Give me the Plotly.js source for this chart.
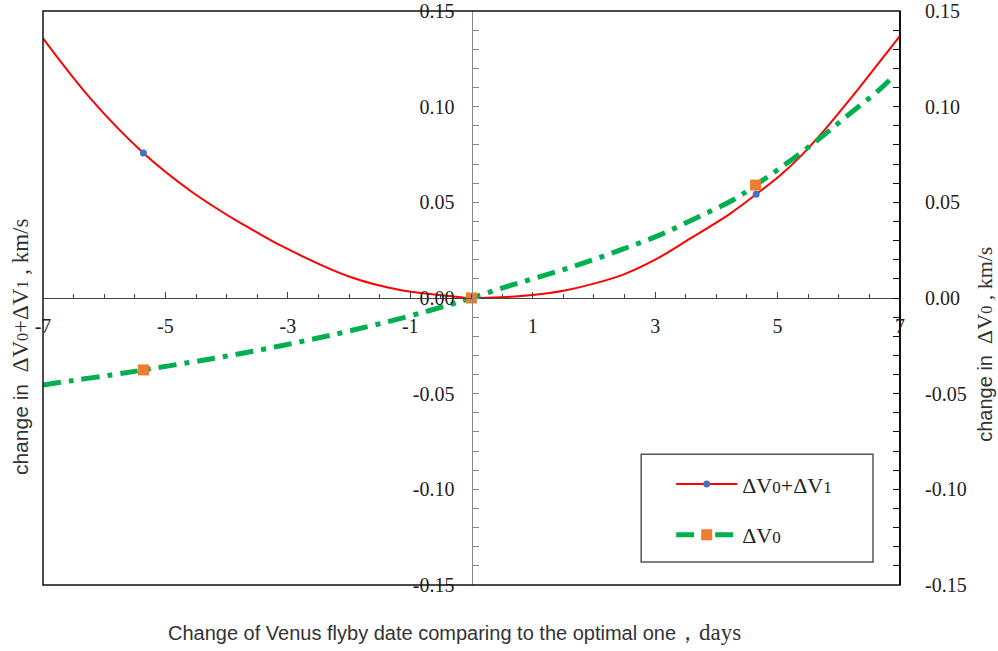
<!DOCTYPE html>
<html><head><meta charset="utf-8">
<script src="https://cdn.plot.ly/plotly-3.0.1.min.js"></script>
<style>html,body{margin:0;padding:0;background:#fff}</style>
</head><body><div id="chart" style="width:998px;height:651px"></div>
<script>
// ---- data ----
const totalDays = [-7, -6.23, -5.36, -4.6, -3.86, -3.62, -3.08, -1.99, -1.17, -0.35, 0, 0.5, 1.0, 1.5, 2.0, 2.5, 3.0, 3.57, 4.22, 4.65, 5.04, 5.37, 5.69, 6.02, 6.35, 6.67, 7.0];
const totalDv   = [0.1357, 0.1045, 0.0758, 0.0562, 0.0408, 0.0364, 0.0268, 0.0111, 0.0042, 0.0010, 0.0000, 0.0004, 0.0016, 0.0038, 0.0075, 0.0125, 0.0200, 0.0310, 0.0440, 0.0542, 0.0640, 0.0739, 0.0850, 0.0975, 0.1105, 0.1235, 0.1370];
const totalMarked = [2, 10, 19];

const dv0Days = [-7.0, -6.53, -5.88, -5.36, -4.57, -3.92, -3.26, -2.61, -1.99, -1.33, -0.71, -0.3, 0, 0.575, 1.23, 1.85, 2.46, 3.08, 3.68, 4.27, 4.64, 5.09, 5.64, 6.13, 6.65, 6.88];
const dv0Vals = [-0.0455, -0.0432, -0.0402, -0.0376, -0.0335, -0.0299, -0.0259, -0.0216, -0.0172, -0.0121, -0.0068, -0.0030, 0.0, 0.0060, 0.0122, 0.0185, 0.0254, 0.0330, 0.0420, 0.0512, 0.0590, 0.0690, 0.0822, 0.0950, 0.1085, 0.1155];
const dv0Marked = [3, 12, 20];

const xTickVals = [-7, -5, -3, -1, 1, 3, 5, 7];
const xTickText = ['-7', '-5', '-3', '-1', '1', '3', '5', '7'];
const yTickVals = [-0.15, -0.10, -0.05, 0, 0.05, 0.10, 0.15];
const yTickText = ['-0.15', '-0.10', '-0.05', '0.00', '0.05', '0.10', '0.15'];

const seriesNames = ['ΔV<span style="font-size:17px">0</span>+ΔV<span style="font-size:17px">1</span>', 'ΔV<span style="font-size:17px">0</span>'];
const xTitleText = 'Change of Venus flyby date comparing to the optimal one<span style="font-family:Liberation Serif;font-size:23px">，days</span>';
const leftTitleText = 'change in  <span style="font-family:Liberation Serif;font-size:23px">ΔV<span style="font-size:16px">0</span>+ΔV<span style="font-size:16px">1</span> , km/s</span>';
const rightTitleText = 'change in  <span style="font-family:Liberation Serif;font-size:22px">ΔV<span style="font-size:16px">0</span> , km/s</span>';

const serif = 'Liberation Serif';
const sans = 'Liberation Sans';

const traces = [
  {
    x: totalDays, y: totalDv, name: seriesNames[0], legendgroup: 'a',
    mode: 'lines+markers', yaxis: 'y',
    line: {color: '#FF0000', width: 2, shape: 'spline', smoothing: 1},
    marker: {symbol: 'circle', size: 7, color: '#4472C4'},
    selectedpoints: totalMarked,
    selected: {marker: {opacity: 1}}, unselected: {marker: {opacity: 0}},
    hoverinfo: 'skip'
  },
  {
    x: dv0Days, y: dv0Vals, name: seriesNames[1], legendgroup: 'b',
    mode: 'lines+markers', yaxis: 'y2',
    line: {color: '#00B050', width: 5, shape: 'spline', smoothing: 1, dash: '18px,8px,5px,8px'},
    marker: {symbol: 'square', size: 11, color: '#ED7D31'},
    selectedpoints: dv0Marked,
    selected: {marker: {opacity: 1}}, unselected: {marker: {opacity: 0}},
    hoverinfo: 'skip'
  }
];

const tickFont = {family: serif, size: 20, color: '#222'};

const layout = {
  width: 998, height: 651,
  margin: {l: 43, r: 98, t: 11, b: 66},
  paper_bgcolor: '#fff', plot_bgcolor: '#fff',
  showlegend: true,
  legend: {
    x: 0.733, y: 0.212, xanchor: 'left', yanchor: 'top',
    bgcolor: 'rgba(0,0,0,0)', borderwidth: 0,
    font: {family: serif, size: 22, color: '#222'},
    tracegroupgap: 19, itemwidth: 61
  },
  xaxis: {
    range: [-7, 7], anchor: 'free', position: 0.5,
    showline: true, linecolor: '#444', linewidth: 1,
    tickmode: 'array', tickvals: xTickVals, ticktext: xTickText,
    ticks: 'inside', ticklen: 6, tickcolor: '#444',
    minor: {tickmode: 'linear', tick0: -7, dtick: 0.5, ticks: 'inside', ticklen: 4, tickcolor: '#444'},
    showgrid: false, zeroline: false,
    tickfont: tickFont, ticklabelstandoff: 10
  },
  yaxis: {
    range: [-0.15, 0.15], anchor: 'free', position: 0.5, side: 'left',
    showline: true, linecolor: '#888', linewidth: 1.5,
    tickmode: 'array', tickvals: yTickVals, ticktext: yTickText,
    ticks: 'inside', ticklen: 6, tickcolor: '#888',
    minor: {tickmode: 'linear', tick0: -0.15, dtick: 0.01, ticks: 'inside', ticklen: 6, tickcolor: '#888'},
    showgrid: false, zeroline: false,
    tickfont: tickFont, ticklabelstandoff: 13
  },
  yaxis2: {
    range: [-0.15, 0.15], overlaying: 'y', anchor: 'free', position: 1, side: 'right',
    showline: true, linecolor: '#111', linewidth: 2,
    tickmode: 'array', tickvals: yTickVals, ticktext: yTickText,
    ticks: 'inside', ticklen: 6, tickcolor: '#111',
    minor: {tickmode: 'linear', tick0: -0.15, dtick: 0.01, ticks: 'inside', ticklen: 6, tickcolor: '#111'},
    showgrid: false, zeroline: false,
    tickfont: tickFont, ticklabelstandoff: 20
  },
  shapes: [
    {type: 'rect', xref: 'paper', yref: 'paper', x0: 0, x1: 1, y0: 0, y1: 1,
     line: {color: '#111', width: 1.5}, layer: 'above'},
    {type: 'rect', xref: 'paper', yref: 'paper', x0: 0.698, x1: 0.9685, y0: 0.040, y1: 0.228,
     line: {color: '#555', width: 1.5}, fillcolor: 'rgba(0,0,0,0)'}
  ],
  annotations: [
    {text: xTitleText, xref: 'paper', yref: 'paper', x: 0.48, y: -0.082,
     xanchor: 'center', yanchor: 'middle', showarrow: false,
     font: {family: sans, size: 20, color: '#333'}},
    {text: leftTitleText, xref: 'paper', yref: 'paper', x: -0.027, y: 0.416,
     xanchor: 'center', yanchor: 'middle', showarrow: false, textangle: -90,
     font: {family: sans, size: 21, color: '#333'}},
    {text: rightTitleText, xref: 'paper', yref: 'paper', x: 1.099, y: 0.42,
     xanchor: 'center', yanchor: 'middle', showarrow: false, textangle: -90,
     font: {family: sans, size: 20, color: '#333'}}
  ]
};

Plotly.newPlot('chart', traces, layout, {displayModeBar: false, staticPlot: true});
</script>
</body></html>
